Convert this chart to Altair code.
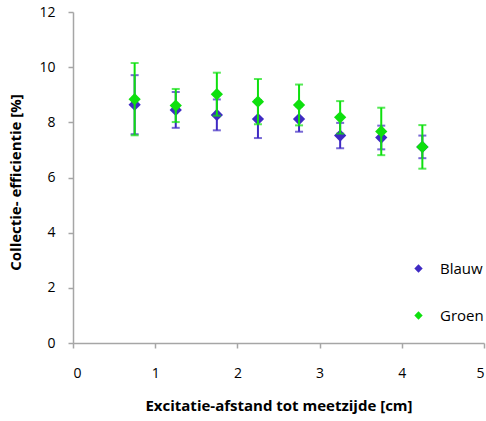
import altair as alt
import pandas as pd

x_vals = [0.75, 1.25, 1.75, 2.25, 2.75, 3.25, 3.75, 4.25]
blauw = [8.64, 8.45, 8.27, 8.12, 8.12, 7.52, 7.45, 7.11]
blauw_err = [1.07, 0.65, 0.56, 0.69, 0.46, 0.46, 0.43, 0.41]
groen = [8.84, 8.61, 9.02, 8.75, 8.63, 8.18, 7.67, 7.11]
groen_err = [1.31, 0.60, 0.78, 0.82, 0.74, 0.59, 0.86, 0.79]
series_names = ["Blauw", "Groen"]
colors = ["#3f2ac3", "#0ee00e"]

rows = []
for name, vals, errs in [("Blauw", blauw, blauw_err), ("Groen", groen, groen_err)]:
    for xv, v, e in zip(x_vals, vals, errs):
        rows.append({"x": xv, "y": v, "lo": v - e, "hi": v + e, "series": name})
df = pd.DataFrame(rows)

FONT = "Open Sans"
xscale = alt.Scale(domain=[0, 5], nice=False, zero=True)
yscale = alt.Scale(domain=[0, 12], nice=False)
color = alt.Color("series:N", scale=alt.Scale(domain=series_names, range=colors),
                  legend=alt.Legend(orient="none", legendX=338, legendY=249, title=None,
                                    symbolType="diamond", symbolSize=70, symbolStrokeWidth=0,
                                    symbolOpacity=1,
                                    labelFontSize=15, labelFont=FONT, labelColor="#000",
                                    labelOffset=14, rowPadding=31, padding=0))

xax = alt.Axis(title="Excitatie-afstand tot meetzijde [cm]", values=[0, 1, 2, 3, 4, 5],
               format="d", grid=False, tickSize=5, labelPadding=18, titlePadding=18)
yax = alt.Axis(title="Collectie- efficientie [%]", values=[0, 2, 4, 6, 8, 10, 12],
               format="d", grid=False, tickSize=5, labelPadding=13, titlePadding=15,
               titleY=170)

layers = []
for name in series_names:
    d = df[df.series == name]
    base = alt.Chart(d)
    rule = base.mark_rule(strokeWidth=2).encode(
        x=alt.X("x:Q", scale=xscale, axis=xax),
        y=alt.Y("lo:Q", scale=yscale, axis=yax),
        y2="hi:Q",
        color=color,
    )
    cap_lo = base.mark_tick(thickness=2, size=8, orient="horizontal").encode(
        x="x:Q", y="lo:Q", color=color)
    cap_hi = base.mark_tick(thickness=2, size=8, orient="horizontal").encode(
        x="x:Q", y="hi:Q", color=color)
    pts = base.mark_point(shape="diamond", filled=True, size=150, opacity=1).encode(
        x="x:Q", y="y:Q", color=color)
    layers += [rule, cap_lo, cap_hi, pts]

chart = alt.layer(*layers).properties(
    width=411, height=331,
    autosize=alt.AutoSizeParams(type="none"),
    padding={"left": 73, "top": 12, "right": 2, "bottom": 78},
).configure(background="white").configure_view(stroke=None).configure_axis(
    domainColor="#a6a6a6", tickColor="#a6a6a6", domainWidth=1.5, tickWidth=1.5,
    labelFont=FONT, labelFontSize=14, labelColor="#000",
    titleFont=FONT, titleFontSize=15, titleFontWeight="bold", titleColor="#000",
)

chart.save("out.html", embed_options={"renderer": "svg", "actions": False})
